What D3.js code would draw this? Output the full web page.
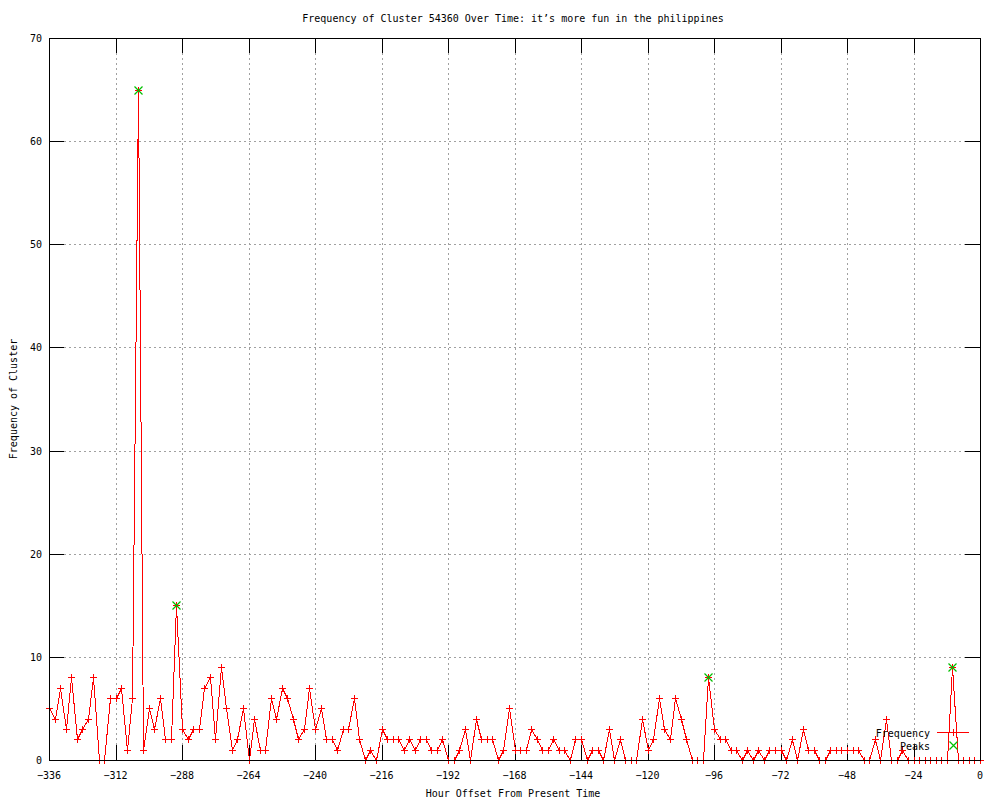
<!DOCTYPE html>
<html>
<head>
<meta charset="utf-8">
<script src="https://cdn.jsdelivr.net/npm/d3@7"></script>
<style>
    body { margin: 0; background: #fff; }
    text { font-family: "DejaVu Sans Mono", monospace; font-size: 10px; fill: #000; }
</style>
</head>
<body>
<svg id="chart"></svg>
<script>
// Données (une valeur toutes les 2 heures, de -336 à 0)
const hours = d3.range(-336, 1, 2);
const frequency = [
    5, 4, 7, 3, 8, 2, 3, 4, 8, 0, 0, 6, 6, 7, 1, 6, 65, 1, 5, 3,
    6, 2, 2, 15, 3, 2, 3, 3, 7, 8, 2, 9, 5, 1, 2, 5, 0, 4, 1, 1,
    6, 4, 7, 6, 4, 2, 3, 7, 3, 5, 2, 2, 1, 3, 3, 6, 2, 0, 1, 0,
    3, 2, 2, 2, 1, 2, 1, 2, 2, 1, 1, 2, 0, 0, 1, 3, 0, 4, 2, 2,
    2, 0, 1, 5, 1, 1, 1, 3, 2, 1, 1, 2, 1, 1, 0, 2, 2, 0, 1, 1,
    0, 3, 0, 2, 0, 0, 0, 4, 1, 2, 6, 3, 2, 6, 4, 2, 0, 0, 0, 8,
    3, 2, 2, 1, 1, 0, 1, 0, 1, 0, 1, 1, 1, 0, 2, 0, 3, 1, 1, 0,
    0, 1, 1, 1, 1, 1, 1, 0, 0, 2, 0, 4, 0, 0, 1, 0, 0, 0, 0, 0,
    0, 0, 0, 9, 0, 0, 0, 0, 0
];
const peakHours = [-304, -290, -98, -10];
const xTicks = d3.range(-336, 1, 24);
const yTicks = d3.range(0, 71, 10);

const width = 1000, height = 800;
const plotLeft = 49, plotRight = 980, plotTop = 38, plotBottom = 760;

const svg = d3.select("#chart")
    .attr("width", width)
    .attr("height", height);

const x = d3.scaleLinear().domain([-336, 0]).range([plotLeft, plotRight]);
const y = d3.scaleLinear().domain([0, 70]).range([plotBottom, plotTop]);

const px = v => Math.round(x(v)) + 0.5;
const py = v => Math.round(y(v)) + 0.5;

const data = hours.map((h, i) => ({ h: h, v: frequency[i] }));
const peaks = data.filter(d => peakHours.includes(d.h));

// Grille pointillée
const grid = svg.append("g")
    .attr("stroke", "#a0a0a0")
    .attr("stroke-dasharray", "2,3")
    .attr("shape-rendering", "crispEdges");

grid.selectAll(".gx")
    .data(xTicks.filter(t => t !== -336 && t !== 0))
    .join("line")
    .attr("x1", d => px(d)).attr("x2", d => px(d))
    .attr("y1", plotTop).attr("y2", plotBottom);

grid.selectAll(".gy")
    .data(yTicks.filter(t => t !== 0 && t !== 70))
    .join("line")
    .attr("x1", plotLeft).attr("x2", plotRight)
    .attr("y1", d => py(d)).attr("y2", d => py(d));

// Graduations (intérieures, aussi en haut et à droite)
const tickLen = 15;
const ticks = svg.append("g")
    .attr("stroke", "#000")
    .attr("shape-rendering", "crispEdges");

xTicks.forEach(t => {
    ticks.append("line").attr("x1", px(t)).attr("x2", px(t)).attr("y1", plotBottom).attr("y2", plotBottom - tickLen);
    ticks.append("line").attr("x1", px(t)).attr("x2", px(t)).attr("y1", plotTop).attr("y2", plotTop + tickLen);
});
yTicks.forEach(t => {
    ticks.append("line").attr("x1", plotLeft).attr("x2", plotLeft + tickLen).attr("y1", py(t)).attr("y2", py(t));
    ticks.append("line").attr("x1", plotRight).attr("x2", plotRight - tickLen).attr("y1", py(t)).attr("y2", py(t));
});

// Libellés des axes
svg.append("g").selectAll("text")
    .data(xTicks)
    .join("text")
    .attr("x", d => x(d))
    .attr("y", 779)
    .attr("text-anchor", "middle")
    .text(d => d === 0 ? "0" : "\u2212" + Math.abs(d));

svg.append("g").selectAll("text")
    .data(yTicks)
    .join("text")
    .attr("x", 42)
    .attr("y", d => y(d) + 4)
    .attr("text-anchor", "end")
    .text(d => d);

// Courbe de fréquence
const line = d3.line()
    .x(d => px(d.h))
    .y(d => py(d.v));

const plot = svg.append("g");

plot.append("path")
    .datum(data)
    .attr("d", line)
    .attr("fill", "none")
    .attr("stroke", "#ff0000")
    .attr("stroke-width", 1)
    .attr("shape-rendering", "crispEdges");

// Marqueurs +
const ms = 3.5;
plot.selectAll(".pt")
    .data(data)
    .join("path")
    .attr("d", d => `M${px(d.h) - ms},${py(d.v)}H${px(d.h) + ms}M${px(d.h)},${py(d.v) - ms}V${py(d.v) + ms}`)
    .attr("stroke", "#ff0000")
    .attr("fill", "none")
    .attr("shape-rendering", "crispEdges");

// Pics (x vert)
const cs = 4;
plot.selectAll(".pk")
    .data(peaks)
    .join("path")
    .attr("d", d => `M${px(d.h) - cs},${py(d.v) - cs}L${px(d.h) + cs},${py(d.v) + cs}M${px(d.h) - cs},${py(d.v) + cs}L${px(d.h) + cs},${py(d.v) - cs}`)
    .attr("stroke", "#00c000")
    .attr("stroke-width", 1.2)
    .attr("fill", "none");

// Cadre
svg.append("rect")
    .attr("x", plotLeft + 0.5).attr("y", plotTop + 0.5)
    .attr("width", plotRight - plotLeft).attr("height", plotBottom - plotTop)
    .attr("fill", "none")
    .attr("stroke", "#000")
    .attr("shape-rendering", "crispEdges");

// Légende
const legend = svg.append("g");
legend.append("text").attr("x", 930).attr("y", 737).attr("text-anchor", "end").text("Frequency");
legend.append("path")
    .attr("d", "M937,732.5H969M953.5,729V736")
    .attr("stroke", "#ff0000")
    .attr("shape-rendering", "crispEdges");
legend.append("text").attr("x", 930).attr("y", 750).attr("text-anchor", "end").text("Peaks");
legend.append("path")
    .attr("d", "M949.5,741.5L957.5,749.5M949.5,749.5L957.5,741.5")
    .attr("stroke", "#00c000")
    .attr("stroke-width", 1.2)
    .attr("fill", "none");

// Titres
svg.append("text")
    .attr("x", 513).attr("y", 22)
    .attr("text-anchor", "middle")
    .text("Frequency of Cluster 54360 Over Time: it\u2019s more fun in the philippines");

svg.append("text")
    .attr("x", 513).attr("y", 797)
    .attr("text-anchor", "middle")
    .text("Hour Offset From Present Time");

svg.append("text")
    .attr("transform", "translate(17,399) rotate(-90)")
    .attr("text-anchor", "middle")
    .text("Frequency of Cluster");
</script>
</body>
</html>
